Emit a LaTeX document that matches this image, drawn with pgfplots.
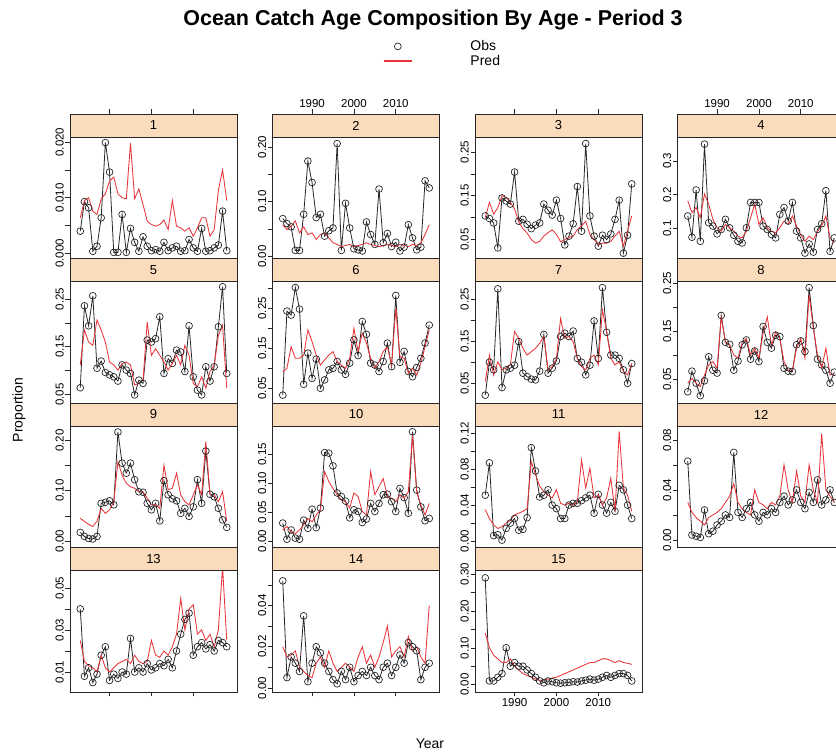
\documentclass[border=0pt]{standalone}
\usepackage{fontspec}
\setmainfont{Liberation Sans}
\usepackage{pgfplots}
\usepackage{pgfplotstable}
\pgfplotsset{compat=1.18}
\definecolor{stripbg}{RGB}{250,220,188}
\definecolor{predred}{RGB}{232,52,58}

% year, observed and predicted proportion, one table per age
\pgfplotstableread{
year obs pred
1983 0.0040 0.0064
1984 0.0093 0.0095
1985 0.0082 0.0100
1986 0.0004 0.0076
1987 0.0013 0.0070
1988 0.0064 0.0098
1989 0.0199 0.0107
1990 0.0146 0.0130
1991 0.0002 0.0137
1992 0.0002 0.0107
1993 0.0070 0.0100
1994 0.0002 0.0098
1995 0.0045 0.0198
1996 0.0020 0.0098
1997 0.0004 0.0116
1998 0.0030 0.0088
1999 0.0013 0.0058
2000 0.0005 0.0052
2001 0.0007 0.0049
2002 0.0004 0.0052
2003 0.0020 0.0060
2004 0.0005 0.0043
2005 0.0010 0.0095
2006 0.0013 0.0049
2007 0.0004 0.0046
2008 0.0005 0.0040
2009 0.0025 0.0046
2010 0.0010 0.0031
2011 0.0004 0.0046
2012 0.0045 0.0064
2013 0.0004 0.0064
2014 0.0005 0.0031
2015 0.0010 0.0043
2016 0.0015 0.0113
2017 0.0076 0.0150
2018 0.0005 0.0095
}\tabA

\pgfplotstableread{
year obs pred
1983 0.069 0.058
1984 0.060 0.049
1985 0.054 0.055
1986 0.011 0.065
1987 0.011 0.043
1988 0.077 0.054
1989 0.174 0.040
1990 0.135 0.043
1991 0.071 0.031
1992 0.077 0.040
1993 0.037 0.043
1994 0.047 0.034
1995 0.052 0.025
1996 0.206 0.022
1997 0.011 0.018
1998 0.097 0.020
1999 0.052 0.022
2000 0.014 0.018
2001 0.012 0.020
2002 0.010 0.022
2003 0.063 0.025
2004 0.040 0.022
2005 0.022 0.020
2006 0.123 0.018
2007 0.025 0.020
2008 0.042 0.022
2009 0.018 0.020
2010 0.026 0.018
2011 0.010 0.022
2012 0.017 0.020
2013 0.058 0.018
2014 0.034 0.022
2015 0.012 0.020
2016 0.017 0.025
2017 0.138 0.040
2018 0.125 0.058
}\tabB

\pgfplotstableread{
year obs pred
1983 0.104 0.100
1984 0.098 0.135
1985 0.088 0.108
1986 0.031 0.123
1987 0.145 0.150
1988 0.138 0.146
1989 0.131 0.135
1990 0.204 0.120
1991 0.092 0.090
1992 0.096 0.075
1993 0.085 0.065
1994 0.075 0.050
1995 0.083 0.042
1996 0.088 0.046
1997 0.131 0.058
1998 0.117 0.066
1999 0.106 0.072
2000 0.140 0.062
2001 0.098 0.045
2002 0.038 0.050
2003 0.058 0.055
2004 0.086 0.058
2005 0.171 0.073
2006 0.069 0.081
2007 0.269 0.092
2008 0.104 0.062
2009 0.058 0.050
2010 0.035 0.038
2011 0.060 0.042
2012 0.050 0.042
2013 0.063 0.046
2014 0.096 0.058
2015 0.140 0.069
2016 0.019 0.035
2017 0.060 0.069
2018 0.177 0.104
}\tabC

\pgfplotstableread{
year obs pred
1983 0.137 0.182
1984 0.074 0.147
1985 0.214 0.162
1986 0.062 0.132
1987 0.350 0.202
1988 0.117 0.172
1989 0.107 0.127
1990 0.084 0.102
1991 0.097 0.092
1992 0.127 0.112
1993 0.102 0.102
1994 0.080 0.092
1995 0.062 0.077
1996 0.057 0.072
1997 0.102 0.092
1998 0.177 0.132
1999 0.177 0.172
2000 0.177 0.112
2001 0.107 0.132
2002 0.097 0.102
2003 0.082 0.092
2004 0.072 0.087
2005 0.142 0.102
2006 0.162 0.122
2007 0.122 0.112
2008 0.177 0.137
2009 0.092 0.107
2010 0.072 0.082
2011 0.027 0.062
2012 0.054 0.077
2013 0.030 0.067
2014 0.097 0.092
2015 0.114 0.107
2016 0.212 0.137
2017 0.032 0.072
2018 0.072 0.057
}\tabD

\pgfplotstableread{
year obs pred
1983 0.064 0.112
1984 0.236 0.185
1985 0.194 0.160
1986 0.257 0.153
1987 0.105 0.206
1988 0.120 0.185
1989 0.096 0.160
1990 0.091 0.118
1991 0.087 0.112
1992 0.078 0.101
1993 0.112 0.115
1994 0.101 0.118
1995 0.094 0.112
1996 0.049 0.070
1997 0.080 0.073
1998 0.073 0.080
1999 0.164 0.202
2000 0.160 0.132
2001 0.167 0.146
2002 0.213 0.132
2003 0.094 0.118
2004 0.125 0.101
2005 0.115 0.115
2006 0.143 0.132
2007 0.139 0.112
2008 0.098 0.153
2009 0.194 0.132
2010 0.087 0.073
2011 0.059 0.066
2012 0.049 0.087
2013 0.108 0.063
2014 0.078 0.098
2015 0.108 0.112
2016 0.192 0.174
2017 0.276 0.195
2018 0.094 0.063
}\tabE

\pgfplotstableread{
year obs pred
1983 0.033 0.092
1984 0.243 0.100
1985 0.233 0.154
1986 0.302 0.125
1987 0.248 0.125
1988 0.060 0.133
1989 0.138 0.196
1990 0.075 0.167
1991 0.123 0.133
1992 0.050 0.108
1993 0.071 0.121
1994 0.096 0.133
1995 0.100 0.142
1996 0.117 0.117
1997 0.096 0.108
1998 0.085 0.100
1999 0.113 0.125
2000 0.171 0.200
2001 0.132 0.142
2002 0.217 0.188
2003 0.185 0.163
2004 0.113 0.125
2005 0.108 0.100
2006 0.092 0.117
2007 0.117 0.142
2008 0.163 0.154
2009 0.104 0.108
2010 0.282 0.250
2011 0.115 0.129
2012 0.142 0.125
2013 0.092 0.088
2014 0.079 0.100
2015 0.102 0.083
2016 0.125 0.113
2017 0.163 0.154
2018 0.208 0.196
}\tabF

\pgfplotstableread{
year obs pred
1983 0.022 0.054
1984 0.100 0.117
1985 0.082 0.070
1986 0.274 0.101
1987 0.040 0.082
1988 0.082 0.086
1989 0.086 0.094
1990 0.093 0.173
1991 0.149 0.157
1992 0.074 0.133
1993 0.066 0.117
1994 0.060 0.125
1995 0.058 0.133
1996 0.079 0.145
1997 0.166 0.161
1998 0.074 0.082
1999 0.086 0.090
2000 0.103 0.109
2001 0.161 0.204
2002 0.169 0.157
2003 0.161 0.161
2004 0.174 0.149
2005 0.109 0.109
2006 0.100 0.090
2007 0.070 0.082
2008 0.093 0.109
2009 0.198 0.117
2010 0.109 0.094
2011 0.277 0.224
2012 0.171 0.173
2013 0.117 0.109
2014 0.117 0.094
2015 0.109 0.101
2016 0.082 0.078
2017 0.050 0.070
2018 0.097 0.097
}\tabG

\pgfplotstableread{
year obs pred
1983 0.024 0.042
1984 0.067 0.052
1985 0.042 0.042
1986 0.016 0.035
1987 0.047 0.059
1988 0.097 0.080
1989 0.069 0.087
1990 0.063 0.073
1991 0.183 0.180
1992 0.127 0.128
1993 0.123 0.121
1994 0.069 0.101
1995 0.088 0.094
1996 0.122 0.128
1997 0.132 0.135
1998 0.092 0.101
1999 0.109 0.115
2000 0.087 0.094
2001 0.160 0.146
2002 0.127 0.180
2003 0.115 0.121
2004 0.142 0.149
2005 0.139 0.135
2006 0.073 0.087
2007 0.067 0.069
2008 0.066 0.069
2009 0.122 0.115
2010 0.130 0.135
2011 0.108 0.094
2012 0.241 0.226
2013 0.162 0.156
2014 0.092 0.101
2015 0.080 0.073
2016 0.069 0.115
2017 0.042 0.059
2018 0.065 0.062
}\tabH

\pgfplotstableread{
year obs pred
1983 0.017 0.045
1984 0.009 0.039
1985 0.005 0.033
1986 0.004 0.029
1987 0.009 0.039
1988 0.075 0.065
1989 0.077 0.055
1990 0.080 0.062
1991 0.072 0.078
1992 0.217 0.158
1993 0.155 0.131
1994 0.135 0.115
1995 0.155 0.108
1996 0.122 0.105
1997 0.098 0.098
1998 0.097 0.098
1999 0.075 0.085
2000 0.062 0.072
2001 0.075 0.072
2002 0.040 0.065
2003 0.120 0.151
2004 0.092 0.102
2005 0.084 0.105
2006 0.080 0.135
2007 0.055 0.092
2008 0.065 0.078
2009 0.049 0.072
2010 0.068 0.092
2011 0.122 0.112
2012 0.075 0.092
2013 0.179 0.198
2014 0.093 0.092
2015 0.088 0.092
2016 0.065 0.078
2017 0.042 0.098
2018 0.027 0.039
}\tabI

\pgfplotstableread{
year obs pred
1983 0.031 0.019
1984 0.003 0.025
1985 0.019 0.016
1986 0.005 0.013
1987 0.003 0.019
1988 0.036 0.028
1989 0.022 0.039
1990 0.055 0.033
1991 0.023 0.045
1992 0.057 0.054
1993 0.153 0.120
1994 0.152 0.103
1995 0.130 0.091
1996 0.083 0.080
1997 0.077 0.071
1998 0.069 0.068
1999 0.040 0.057
2000 0.054 0.083
2001 0.051 0.077
2002 0.032 0.051
2003 0.038 0.045
2004 0.065 0.120
2005 0.051 0.080
2006 0.065 0.094
2007 0.080 0.108
2008 0.081 0.077
2009 0.068 0.074
2010 0.051 0.068
2011 0.091 0.080
2012 0.075 0.074
2013 0.048 0.085
2014 0.189 0.183
2015 0.088 0.085
2016 0.059 0.062
2017 0.035 0.045
2018 0.039 0.065
}\tabJ

\pgfplotstableread{
year obs pred
1983 0.051 0.035
1984 0.087 0.025
1985 0.006 0.018
1986 0.007 0.014
1987 0.001 0.016
1988 0.014 0.020
1989 0.020 0.023
1990 0.025 0.029
1991 0.012 0.031
1992 0.013 0.033
1993 0.026 0.036
1994 0.104 0.088
1995 0.078 0.074
1996 0.049 0.061
1997 0.051 0.055
1998 0.057 0.051
1999 0.040 0.048
2000 0.036 0.057
2001 0.025 0.042
2002 0.025 0.040
2003 0.040 0.042
2004 0.042 0.040
2005 0.042 0.044
2006 0.045 0.090
2007 0.048 0.059
2008 0.051 0.081
2009 0.031 0.048
2010 0.052 0.051
2011 0.040 0.040
2012 0.031 0.048
2013 0.043 0.070
2014 0.033 0.033
2015 0.062 0.122
2016 0.057 0.059
2017 0.040 0.051
2018 0.025 0.033
}\tabK

\pgfplotstableread{
year obs pred
1983 0.063 0.030
1984 0.004 0.022
1985 0.003 0.018
1986 0.002 0.015
1987 0.024 0.012
1988 0.005 0.018
1989 0.007 0.020
1990 0.012 0.022
1991 0.015 0.025
1992 0.020 0.030
1993 0.018 0.035
1994 0.070 0.045
1995 0.022 0.030
1996 0.018 0.025
1997 0.025 0.022
1998 0.030 0.020
1999 0.020 0.040
2000 0.015 0.030
2001 0.022 0.028
2002 0.020 0.025
2003 0.025 0.030
2004 0.022 0.028
2005 0.030 0.035
2006 0.035 0.060
2007 0.028 0.040
2008 0.032 0.030
2009 0.040 0.055
2010 0.030 0.035
2011 0.025 0.030
2012 0.038 0.060
2013 0.030 0.040
2014 0.048 0.030
2015 0.028 0.085
2016 0.032 0.040
2017 0.040 0.035
2018 0.030 0.030
}\tabL

\pgfplotstableread{
year obs pred
1983 0.040 0.025
1984 0.008 0.015
1985 0.012 0.013
1986 0.005 0.012
1987 0.009 0.010
1988 0.018 0.018
1989 0.022 0.012
1990 0.006 0.010
1991 0.009 0.012
1992 0.007 0.014
1993 0.010 0.015
1994 0.009 0.016
1995 0.026 0.014
1996 0.010 0.018
1997 0.012 0.015
1998 0.010 0.014
1999 0.014 0.015
2000 0.011 0.025
2001 0.012 0.018
2002 0.014 0.017
2003 0.013 0.020
2004 0.016 0.018
2005 0.012 0.022
2006 0.020 0.028
2007 0.028 0.045
2008 0.035 0.030
2009 0.038 0.040
2010 0.018 0.042
2011 0.022 0.028
2012 0.024 0.030
2013 0.021 0.025
2014 0.023 0.028
2015 0.020 0.022
2016 0.025 0.030
2017 0.024 0.060
2018 0.022 0.025
}\tabM

\pgfplotstableread{
year obs pred
1983 0.052 0.020
1984 0.005 0.015
1985 0.015 0.016
1986 0.012 0.018
1987 0.008 0.010
1988 0.035 0.008
1989 0.003 0.006
1990 0.012 0.005
1991 0.020 0.012
1992 0.017 0.015
1993 0.012 0.010
1994 0.008 0.018
1995 0.004 0.012
1996 0.002 0.008
1997 0.008 0.010
1998 0.004 0.012
1999 0.010 0.010
2000 0.003 0.008
2001 0.006 0.015
2002 0.008 0.020
2003 0.006 0.012
2004 0.010 0.016
2005 0.006 0.010
2006 0.004 0.015
2007 0.010 0.022
2008 0.012 0.030
2009 0.006 0.015
2010 0.010 0.018
2011 0.016 0.020
2012 0.012 0.015
2013 0.022 0.025
2014 0.020 0.018
2015 0.018 0.020
2016 0.004 0.015
2017 0.010 0.012
2018 0.012 0.040
}\tabN

\pgfplotstableread{
year obs pred
1983 0.290 0.140
1984 0.010 0.100
1985 0.010 0.080
1986 0.020 0.070
1987 0.030 0.060
1988 0.100 0.060
1989 0.050 0.070
1990 0.060 0.050
1991 0.050 0.040
1992 0.050 0.030
1993 0.040 0.025
1994 0.030 0.020
1995 0.020 0.015
1996 0.010 0.012
1997 0.005 0.012
1998 0.010 0.015
1999 0.008 0.018
2000 0.005 0.020
2001 0.004 0.025
2002 0.005 0.030
2003 0.006 0.035
2004 0.008 0.040
2005 0.007 0.045
2006 0.010 0.050
2007 0.012 0.055
2008 0.015 0.060
2009 0.012 0.060
2010 0.015 0.065
2011 0.020 0.070
2012 0.025 0.070
2013 0.020 0.065
2014 0.025 0.060
2015 0.030 0.065
2016 0.030 0.060
2017 0.025 0.058
2018 0.010 0.055
}\tabO

\pgfplotsset{
  panel/.style={
    scale only axis, width=167pt, height=144.5pt,
    anchor=south west,
    xmin=1980.55, xmax=2020.45,
    scaled ticks=false,
    axis line style={black!85, line width=0.6pt},
    tick style={black!85, line width=0.6pt},
    tick align=outside, major tick length=4.5pt,
    ytick pos=left,
    yticklabel style={rotate=90, anchor=south, inner sep=1.5pt,
      font=\fontsize{11.5}{12}\selectfont},
    xticklabel style={inner sep=2pt, font=\fontsize{11.5}{12}\selectfont},
    xtick={1990,2000,2010},
    xticklabels={1990,2000,2010},
  },
  strip/.style={after end axis/.append code={
    \fill[stripbg] (rel axis cs:0,0.8408) rectangle (rel axis cs:1,1);
    \draw[black!85, line width=0.6pt] (rel axis cs:0,0.8408) rectangle (rel axis cs:1,1);
    \node[font=\fontsize{13}{14}\selectfont] at (rel axis cs:0.5,0.9204) {#1};
  }},
  toprow/.style={xtick pos=right, xticklabel pos=right},
  midrow/.style={xtick=\empty},
  botrow/.style={xtick pos=left, xticklabel pos=left},
  nolab/.style={xticklabels={}},
  obs/.style={black!85, line width=0.8pt, mark=o, mark size=3.4pt,
    mark options={line width=0.7pt, fill=none},
    legend image code/.code={%
      \draw[##1, only marks, mark repeat=2, mark phase=2]
        plot coordinates {(0pt,0pt) (14pt,0pt) (28pt,0pt)};}},
  pred/.style={predred, line width=0.85pt, no markers,
    legend image code/.code={%
      \draw[predred, line width=1.3pt] (0pt,0pt) -- (28pt,0pt);}},
}

\newcommand{\series}[1]{%
  \addplot[obs] table[x=year, y=obs] {#1};
  \addplot[pred] table[x=year, y=pred] {#1};
}

\begin{document}
\begin{tikzpicture}
\useasboundingbox (0,0) rectangle (836pt,755pt);
\begin{scope}
\clip (0,0) rectangle (836pt,755pt);

% row 1
\begin{axis}[panel, toprow, nolab, strip=1, at={(70pt,496.5pt)},
  ymin=-0.0009, ymax=0.02503,
  ytick={0,0.005,0.01,0.015,0.02}, yticklabels={0.000,,0.010,,0.020}]
\series{\tabA}
\end{axis}
\begin{axis}[panel, toprow, strip=2, at={(272.5pt,496.5pt)},
  ymin=-0.0037, ymax=0.2600,
  ytick={0,0.05,0.1,0.15,0.2}, yticklabels={0.00,,0.10,,0.20}]
\series{\tabB}
\end{axis}
\begin{axis}[panel, toprow, nolab, strip=3, at={(475pt,496.5pt)},
  ymin=0.0069, ymax=0.3365,
  ytick={0.05,0.1,0.15,0.2,0.25}, yticklabels={0.05,,0.15,,0.25}]
\series{\tabC}
\end{axis}
\begin{axis}[panel, toprow, strip=4, at={(677.5pt,496.5pt)},
  ymin=0.011, ymax=0.4392,
  ytick={0.1,0.2,0.3}, yticklabels={0.1,0.2,0.3}]
\series{\tabD}
\end{axis}

% row 2
\begin{axis}[panel, midrow, strip=5, at={(70pt,352pt)},
  ymin=0.032, ymax=0.3353,
  ytick={0.05,0.1,0.15,0.2,0.25}, yticklabels={0.05,,0.15,,0.25}]
\series{\tabE}
\end{axis}
\begin{axis}[panel, midrow, strip=6, at={(272.5pt,352pt)},
  ymin=0.0133, ymax=0.3745,
  ytick={0.05,0.1,0.15,0.2,0.25,0.3}, yticklabels={0.05,,0.15,,0.25,}]
\series{\tabF}
\end{axis}
\begin{axis}[panel, midrow, strip=7, at={(475pt,352pt)},
  ymin=0.0034, ymax=0.3460,
  ytick={0.05,0.1,0.15,0.2,0.25}, yticklabels={0.05,,0.15,,0.25}]
\series{\tabG}
\end{axis}
\begin{axis}[panel, midrow, strip=8, at={(677.5pt,352pt)},
  ymin=0.0007, ymax=0.3017,
  ytick={0.05,0.1,0.15,0.2,0.25}, yticklabels={0.05,,0.15,,0.25}]
\series{\tabH}
\end{axis}

% row 3
\begin{axis}[panel, midrow, strip=9, at={(70pt,207.5pt)},
  ymin=-0.013, ymax=0.2748,
  ytick={0,0.05,0.1,0.15,0.2}, yticklabels={0.00,,0.10,,0.20}]
\series{\tabI}
\end{axis}
\begin{axis}[panel, midrow, strip=10, at={(272.5pt,207.5pt)},
  ymin=-0.0113, ymax=0.2388,
  ytick={0,0.05,0.1,0.15}, yticklabels={0.00,0.05,0.10,0.15}]
\series{\tabJ}
\end{axis}
\begin{axis}[panel, midrow, strip=11, at={(475pt,207.5pt)},
  ymin=-0.0072, ymax=0.1536,
  ytick={0,0.02,0.04,0.06,0.08,0.1,0.12}, yticklabels={0.00,,0.04,,0.08,,0.12}]
\series{\tabK}
\end{axis}
\begin{axis}[panel, midrow, strip=12, at={(677.5pt,207.5pt)},
  ymin=-0.006, ymax=0.1094,
  ytick={0,0.02,0.04,0.06,0.08}, yticklabels={0.00,,0.04,,0.08}]
\series{\tabL}
\end{axis}

% row 4
\begin{axis}[panel, botrow, nolab, strip=13, at={(70pt,63pt)},
  ymin=0.0005, ymax=0.0692,
  ytick={0.01,0.02,0.03,0.04,0.05}, yticklabels={0.01,,0.03,,0.05}]
\series{\tabM}
\end{axis}
\begin{axis}[panel, botrow, nolab, strip=14, at={(272.5pt,63pt)},
  ymin=-0.002, ymax=0.0682,
  ytick={0,0.01,0.02,0.03,0.04,0.05}, yticklabels={0.00,,0.02,,0.04,}]
\series{\tabN}
\end{axis}
% the key of the whole figure is attached to this last panel
\begin{axis}[panel, botrow, strip=15, at={(475pt,63pt)},
  ymin=-0.02, ymax=0.3725,
  ytick={0,0.05,0.1,0.15,0.2,0.25,0.3}, yticklabels={0.00,,0.10,,0.20,,0.30},
  legend cell align=left,
  legend style={at={(-0.551,4.311)}, anchor=south west, draw=white, fill=white,
    inner sep=0pt, row sep=-1pt, font=\fontsize{14}{15}\selectfont}]
\series{\tabO}
\legend{\hspace{56pt}Obs, \hspace{56pt}Pred}
\end{axis}

\node[font=\fontsize{21.5}{23}\selectfont\bfseries] at (433pt,735pt)
  {Ocean Catch Age Composition By Age - Period 3};
\node[rotate=90, font=\fontsize{14}{15}\selectfont] at (19pt,345pt) {Proportion};
\node[font=\fontsize{14}{15}\selectfont] at (430pt,11pt) {Year};
\end{scope}
\end{tikzpicture}
\end{document}
